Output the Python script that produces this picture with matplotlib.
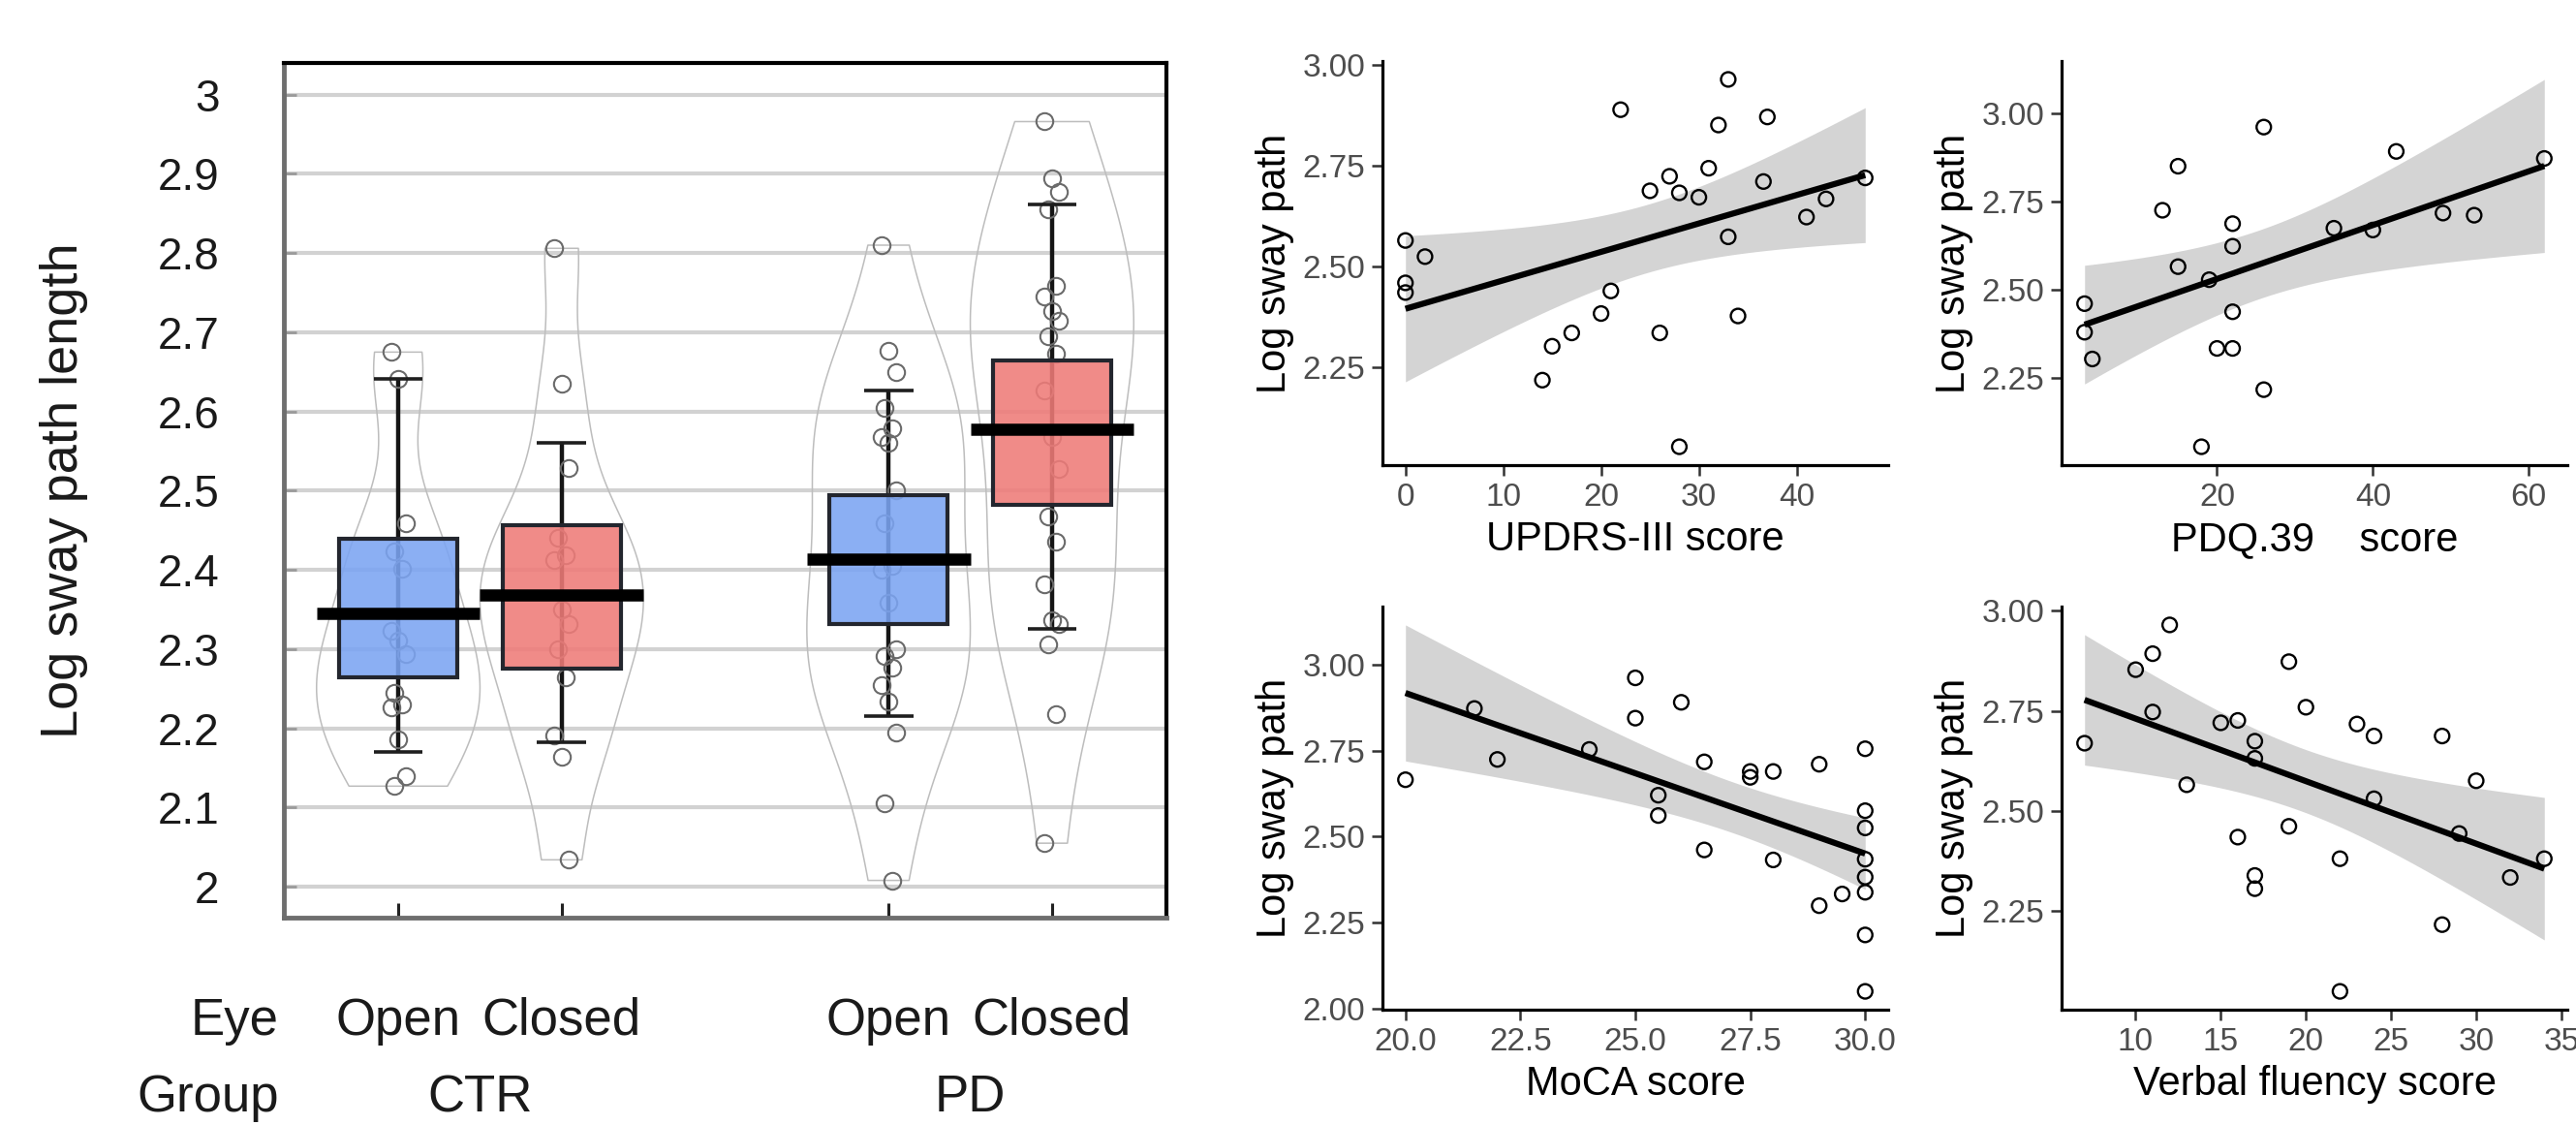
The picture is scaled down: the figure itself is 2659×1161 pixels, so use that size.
import math
import numpy as np
import matplotlib
matplotlib.use("Agg")
import matplotlib.pyplot as plt

plt.rcParams['font.family'] = ['Liberation Sans', 'DejaVu Sans']

# ---------------- Left panel data ----------------
eye_labels = ['Open', 'Closed', 'Open', 'Closed']
group_labels = ['CTR', 'PD']
ctr_open = [2.675, 2.641, 2.459, 2.423, 2.402, 2.323, 2.311, 2.294, 2.245, 2.230,
            2.227, 2.186, 2.139, 2.127]
ctr_closed = [2.806, 2.635, 2.529, 2.441, 2.418, 2.412, 2.350, 2.332, 2.300, 2.264,
              2.191, 2.164, 2.034]
pd_open = [2.810, 2.677, 2.650, 2.605, 2.579, 2.568, 2.561, 2.500, 2.459, 2.405,
           2.400, 2.359, 2.300, 2.291, 2.277, 2.255, 2.234, 2.195, 2.105, 2.008]
pd_closed = [2.966, 2.895, 2.877, 2.855, 2.759, 2.745, 2.727, 2.714, 2.695, 2.673,
             2.627, 2.568, 2.527, 2.468, 2.436, 2.382, 2.336, 2.332, 2.306, 2.218, 2.055]
box_q1 = [2.264, 2.275, 2.332, 2.482]
box_med = [2.345, 2.368, 2.414, 2.577]
box_q3 = [2.439, 2.456, 2.494, 2.665]
whisk_lo = [2.170, 2.182, 2.215, 2.325]
whisk_hi = [2.641, 2.561, 2.627, 2.861]
left_yticks = [2.0, 2.1, 2.2, 2.3, 2.4, 2.5, 2.6, 2.7, 2.8, 2.9, 3.0]
left_yticklabels = ['2', '2.1', '2.2', '2.3', '2.4', '2.5', '2.6', '2.7', '2.8', '2.9', '3']

# ---------------- Right panels data ----------------
updrs_x = [0, 0, 0, 2, 14, 15, 17, 20, 21, 22, 25, 26, 27, 28, 28, 30, 31, 32, 33, 33,
           34, 36.6, 37, 41, 43, 47]
updrs_y = [2.564, 2.459, 2.435, 2.524, 2.218, 2.302, 2.335, 2.383, 2.439, 2.888, 2.687,
           2.335, 2.723, 2.682, 2.053, 2.671, 2.743, 2.850, 2.573, 2.963, 2.377, 2.710,
           2.870, 2.622, 2.667, 2.719]
pdq_x = [3, 3, 4, 13, 15, 15, 18, 19, 20, 22, 22, 22, 22, 26, 26, 35, 40, 43, 49, 53, 62]
pdq_y = [2.461, 2.380, 2.304, 2.726, 2.851, 2.566, 2.055, 2.529, 2.334, 2.334, 2.688,
         2.624, 2.438, 2.962, 2.217, 2.675, 2.670, 2.893, 2.718, 2.712, 2.873]
moca_x = [20, 21.5, 22, 24, 25, 25, 25.5, 25.5, 26, 26.5, 26.5, 27.5, 27.5, 28, 28, 29,
          29, 29.5, 30, 30, 30, 30, 30, 30, 30, 30]
moca_y = [2.665, 2.872, 2.724, 2.753, 2.961, 2.844, 2.620, 2.561, 2.890, 2.717, 2.461,
          2.689, 2.672, 2.689, 2.432, 2.710, 2.299, 2.333, 2.755, 2.575, 2.525, 2.434,
          2.382, 2.338, 2.214, 2.050]
vf_x = [7, 10, 11, 11, 12, 13, 15, 16, 16, 17, 17, 17, 17, 19, 19, 20, 22, 22, 23, 24,
        24, 28, 28, 29, 30, 32, 34]
vf_y = [2.669, 2.853, 2.893, 2.747, 2.965, 2.565, 2.720, 2.726, 2.434, 2.674, 2.631,
        2.338, 2.305, 2.873, 2.461, 2.759, 2.380, 2.048, 2.717, 2.687, 2.530, 2.687,
        2.215, 2.443, 2.575, 2.333, 2.380]

W, H = 2659, 1161
fig = plt.figure(figsize=(W / 100, H / 100), dpi=100)


def px_axes(l, t, r, b):
    return fig.add_axes([l / W, 1 - b / H, (r - l) / W, (b - t) / H])


# ================= Left panel =================
ax = px_axes(293, 65, 1204, 947)
positions = [1, 2, 4, 5]
datasets = [ctr_open, ctr_closed, pd_open, pd_closed]
box_colors = ['#7BA4F2', '#EF7B78']


def nrd0_factor(kde):
    d = np.asarray(kde.dataset).ravel()
    sd = np.std(d, ddof=1)
    q75, q25 = np.percentile(d, [75, 25])
    lo = min(sd, (q75 - q25) / 1.34)
    bw = 0.9 * lo * len(d) ** (-0.2)
    return bw / sd


vp = ax.violinplot(datasets, positions=positions, widths=1.0, showextrema=False,
                   bw_method=nrd0_factor, points=200)
for body in vp['bodies']:
    body.set_facecolor('none')
    body.set_edgecolor('#BDBDBD')
    body.set_linewidth(1.1)
    body.set_alpha(1)
    body.set_zorder(2)

for i, (pos, data) in enumerate(zip(positions, datasets)):
    col = box_colors[i % 2]
    ax.vlines(pos, whisk_lo[i], whisk_hi[i], color='#151515', lw=3.2, zorder=3)
    offs = np.array([((k * 7) % 5 - 2) * 0.022 for k in range(len(data))])
    ax.plot(pos + offs, data, 'o', ms=12.5, mfc='none', mec='#6a6a6a', mew=1.5, zorder=4)
    ax.bar(pos, box_q3[i] - box_q1[i], bottom=box_q1[i], width=0.72,
           color=col, alpha=0.88, edgecolor='none', zorder=5)
    ax.bar(pos, box_q3[i] - box_q1[i], bottom=box_q1[i], width=0.72,
           color='none', edgecolor='#23262e', lw=3.0, zorder=6)
    ax.hlines([whisk_lo[i], whisk_hi[i]], pos - 0.15, pos + 0.15, color='#1e1e1e',
              lw=2.6, zorder=6)
    ax.hlines(box_med[i], pos - 0.5, pos + 0.5, color='black', lw=9, zorder=7)

ax.set_xlim(0.30, 5.70)
ax.set_ylim(1.961, 3.040)
ax.set_yticks(left_yticks)
ax.set_yticklabels(left_yticklabels)
ax.set_xticks(positions)
ax.set_xticklabels([])
ax.yaxis.grid(True, color='#D2D2D2', lw=3, zorder=0)
ax.set_axisbelow(True)
ax.tick_params(axis='y', direction='in', length=9, width=2, color='#9a9a9a',
               labelsize=33, pad=48, labelcolor='#1a1a1a')
ax.tick_params(axis='x', direction='in', length=11, width=2.2, color='#222222')
for s in ['left', 'bottom']:
    ax.spines[s].set_color('#6e6e6e')
    ax.spines[s].set_linewidth(3.5)
for s in ['top', 'right']:
    ax.spines[s].set_color('black')
    ax.spines[s].set_linewidth(3)

fig.text(66 / W, 1 - 506 / H, 'Log sway path length', rotation=90, ha='center',
         va='center', fontsize=39, color='#1a1a1a')

trans = ax.get_xaxis_transform()
y_eye = -(1068 - 947) / 882
y_grp = -(1147 - 947) / 882
ax.text(0.30 - 0.03, y_eye, 'Eye', transform=trans, ha='right', va='baseline',
        fontsize=38, color='#1a1a1a')
for pos, lab in zip(positions, eye_labels):
    ax.text(pos, y_eye, lab, transform=trans, ha='center', va='baseline',
            fontsize=38, color='#1a1a1a')
ax.text(0.30 - 0.03, y_grp, 'Group', transform=trans, ha='right', va='baseline',
        fontsize=38, color='#1a1a1a')
for pos, lab in zip([1.5, 4.5], group_labels):
    ax.text(pos, y_grp, lab, transform=trans, ha='center', va='baseline',
            fontsize=38, color='#1a1a1a')


# ================= Right panels =================
def t975(df):
    c = math.exp(math.lgamma((df + 1) / 2) - math.lgamma(df / 2)) / math.sqrt(df * math.pi)
    xs = np.linspace(0, 12, 24001)
    pdf = c * (1 + xs ** 2 / df) ** (-(df + 1) / 2)
    cdf = 0.5 + np.concatenate([[0], np.cumsum((pdf[1:] + pdf[:-1]) / 2 * np.diff(xs))])
    return float(np.interp(0.975, cdf, xs))


def scatter_panel(rect, x, y, xlabel, xticks, xfmt, yticks):
    a = px_axes(*rect)
    x = np.asarray(x, float)
    y = np.asarray(y, float)
    n = len(x)
    b, c0 = np.polyfit(x, y, 1)
    xs = np.linspace(x.min(), x.max(), 80)
    yh = c0 + b * xs
    res = y - (c0 + b * x)
    s = math.sqrt(np.sum(res ** 2) / (n - 2))
    sxx = np.sum((x - x.mean()) ** 2)
    se = s * np.sqrt(1 / n + (xs - x.mean()) ** 2 / sxx)
    tq = t975(n - 2)
    a.fill_between(xs, yh - tq * se, yh + tq * se, color='#D4D4D4', lw=0, zorder=1)
    a.plot(xs, yh, color='black', lw=4.5, zorder=3, solid_capstyle='butt')
    a.scatter(x, y, s=115, facecolors='none', edgecolors='black', linewidths=1.7, zorder=4)
    a.margins(x=0.05, y=0.05)
    a.set_xticks(xticks)
    a.set_xticklabels([xfmt.format(v) for v in xticks])
    a.set_yticks(yticks)
    a.set_yticklabels(['{:.2f}'.format(v) for v in yticks])
    for sname in ['top', 'right']:
        a.spines[sname].set_visible(False)
    for sname in ['left', 'bottom']:
        a.spines[sname].set_linewidth(2.3)
        a.spines[sname].set_color('black')
    a.tick_params(length=8, width=1.8, color='#333333', labelsize=24,
                  labelcolor='#4D4D4D', pad=5)
    a.set_xlabel(xlabel, fontsize=30, color='black', labelpad=6)
    a.set_ylabel('Log sway path', fontsize=30, color='black', labelpad=6)
    return a


scatter_panel((1427, 63, 1949, 480), updrs_x, updrs_y, 'UPDRS-III score',
              [0, 10, 20, 30, 40], '{:.0f}', [2.25, 2.50, 2.75, 3.00])
scatter_panel((2128, 63, 2650, 480), pdq_x, pdq_y, 'PDQ.39    score',
              [20, 40, 60], '{:.0f}', [2.25, 2.50, 2.75, 3.00])
scatter_panel((1427, 626, 1949, 1042), moca_x, moca_y, 'MoCA score',
              [20.0, 22.5, 25.0, 27.5, 30.0], '{:.1f}', [2.00, 2.25, 2.50, 2.75, 3.00])
scatter_panel((2128, 626, 2650, 1042), vf_x, vf_y, 'Verbal fluency score',
              [10, 15, 20, 25, 30, 35], '{:.0f}', [2.25, 2.50, 2.75, 3.00])

fig.savefig('out.png', dpi=100, facecolor='white')
